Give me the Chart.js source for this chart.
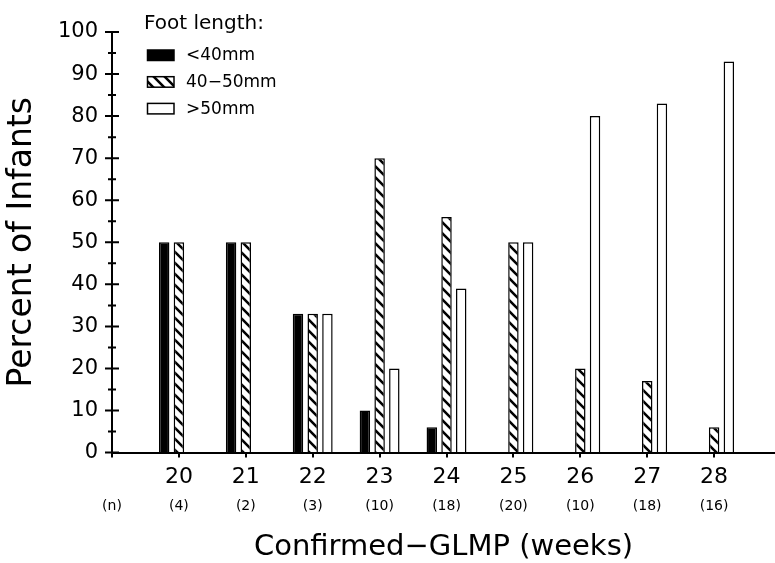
<!DOCTYPE html>
<html>
<head>
<meta charset="utf-8">
<script src="https://cdn.jsdelivr.net/npm/chart.js@4.4.1/dist/chart.umd.min.js"></script>
<style>
  html, body { margin: 0; padding: 0; background: #fff; overflow: hidden; }
  #wrap { width: 775px; height: 563px; position: relative; }
</style>
</head>
<body>
<div id="wrap"><canvas id="footChart"></canvas></div>
<script>
// data
const weeks = [20, 21, 22, 23, 24, 25, 26, 27, 28];
const weekLabels = ['20', '21', '22', '23', '24', '25', '26', '27', '28'];
const nLabels = ['(4)', '(2)', '(3)', '(10)', '(18)', '(20)', '(10)', '(18)', '(16)'];
const seriesNames = ['<40mm', '40\u221250mm', '>50mm'];
const under40 = [50, 50, 33, 10, 6, 0, 0, 0, 0];
const from40to50 = [50, 50, 33, 70, 56, 50, 20, 17, 6];
const over50 = [0, 0, 33, 20, 39, 50, 80, 83, 93];

const FONT = '"DejaVu Sans", sans-serif';
Chart.defaults.font.family = FONT;
Chart.defaults.color = '#000';

// diagonal hatch "\\\\"
function makeHatch() {
  const s = 11;
  const c = document.createElement('canvas');
  c.width = s; c.height = s;
  const g = c.getContext('2d');
  g.fillStyle = '#fff';
  g.fillRect(0, 0, s, s);
  g.strokeStyle = '#000';
  g.lineWidth = 2.6;
  g.beginPath();
  g.moveTo(-2, -2); g.lineTo(s + 2, s + 2);
  g.moveTo(-2, s - 2); g.lineTo(2, s + 2);
  g.moveTo(s - 2, -2); g.lineTo(s + 2, 2);
  g.stroke();
  return g.createPattern(c, 'repeat');
}
const hatch = makeHatch();

// y axis ticks drawn as crosses, small ones every 5
const crossTicks = {
  id: 'crossTicks',
  afterDraw(chart) {
    const ys = chart.scales.y;
    const ctx = chart.ctx;
    const x0 = ys.right;
    ctx.save();
    ctx.strokeStyle = '#000';
    ctx.lineWidth = 2;
    ctx.beginPath();
    for (let v = ys.min; v <= ys.max; v += 5) {
      const py = ys.getPixelForValue(v);
      if (v % 10 === 0) {
        ctx.moveTo(x0 - 7, py); ctx.lineTo(x0 + 7, py);
      } else {
        ctx.moveTo(x0 - 4, py); ctx.lineTo(x0 + 4, py);
      }
    }
    ctx.stroke();
    ctx.restore();
  }
};

// legend in the upper left corner
const footLegend = {
  id: 'footLegend',
  afterDraw(chart) {
    const ctx = chart.ctx;
    ctx.save();
    ctx.textBaseline = 'middle';
    ctx.textAlign = 'left';
    ctx.fillStyle = '#000';
    ctx.font = '20px ' + FONT;
    ctx.fillText('Foot length:', 144, 24);
    ctx.font = '17px ' + FONT;
    chart.data.datasets.forEach((ds, i) => {
      const cy = 55 + i * 26.7;
      ctx.fillStyle = ds.backgroundColor;
      ctx.fillRect(147.5, cy - 5, 26.5, 10.5);
      ctx.strokeStyle = '#000';
      ctx.lineWidth = 1.5;
      ctx.strokeRect(147.5, cy - 5, 26.5, 10.5);
      ctx.fillStyle = '#000';
      ctx.fillText(ds.label, 186, cy + 1);
    });
    ctx.restore();
  }
};

const barStyle = {
  borderColor: '#000',
  borderWidth: 1.5,
  borderSkipped: 'start',
  categoryPercentage: 0.66,
  barPercentage: 0.71
};

new Chart(document.getElementById('footChart'), {
  type: 'bar',
  data: {
    labels: weeks,
    datasets: [
      Object.assign({ label: seriesNames[0], data: under40, backgroundColor: '#000' }, barStyle),
      Object.assign({ label: seriesNames[1], data: from40to50, backgroundColor: hatch }, barStyle),
      Object.assign({ label: seriesNames[2], data: over50, backgroundColor: '#fff' }, barStyle)
    ]
  },
  options: {
    responsive: true,
    maintainAspectRatio: false,
    animation: false,
    layout: { padding: { top: 32, left: 0, right: 0, bottom: 0 } },
    plugins: {
      legend: { display: false },
      tooltip: { enabled: false }
    },
    scales: {
      x: {
        type: 'linear',
        min: 19,
        max: 28.91,
        offset: false,
        grid: { offset: false, drawOnChartArea: false, tickLength: 5, lineWidth: 2, color: '#000' },
        border: { display: true, color: '#000', width: 2 },
        ticks: {
          stepSize: 1,
          includeBounds: false,
          autoSkip: false,
          maxRotation: 0,
          padding: 6.6,
          font: { size: 22 },
          callback: (v) => {
            const i = weeks.indexOf(v);
            return i < 0 ? '' : weekLabels[i];
          }
        }
      },
      y: {
        min: 0,
        max: 100,
        afterFit: (scale) => { scale.width = 112; },
        grid: { drawOnChartArea: false, drawTicks: false },
        border: { display: true, color: '#000', width: 2 },
        ticks: { stepSize: 10, padding: 14, font: { size: 21 } },
        title: {
          display: true,
          text: 'Percent of Infants',
          font: { size: 33 },
          padding: { top: 3, bottom: 0 }
        }
      },
      x2: {
        type: 'linear',
        position: 'bottom',
        min: 19,
        max: 28.91,
        offset: false,
        grid: { display: false, drawTicks: false },
        border: { display: false },
        ticks: {
          stepSize: 1,
          includeBounds: false,
          autoSkip: false,
          maxRotation: 0,
          padding: 1,
          font: { size: 14 },
          callback: (v) => {
            if (v === 19) return '(n)';
            const i = weeks.indexOf(v);
            return i < 0 ? '' : nLabels[i];
          }
        }
        ,
        title: {
          display: true,
          text: 'Confirmed\u2212GLMP (weeks)',
          font: { size: 29, lineHeight: 1 },
          padding: { top: 16.5, bottom: 1.5 }
        }
      }
    }
  },
  plugins: [crossTicks, footLegend]
});
</script>
</body>
</html>
